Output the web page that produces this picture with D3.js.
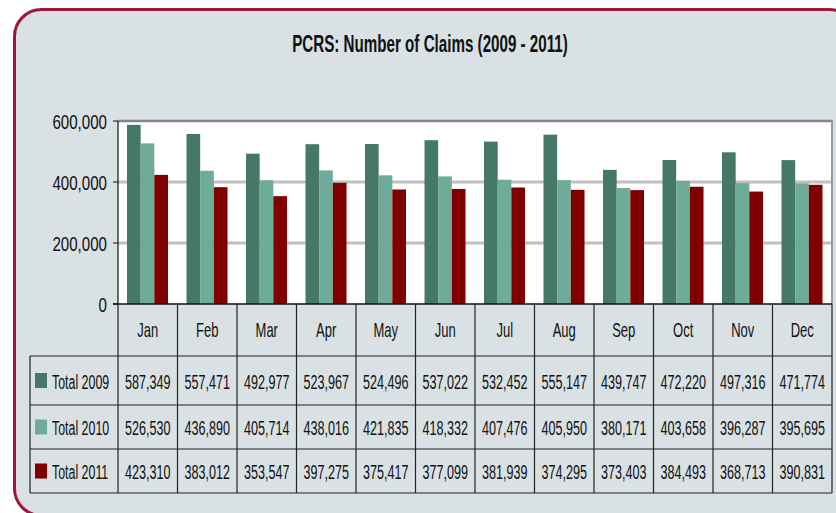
<!DOCTYPE html>
<html>
<head>
<meta charset="utf-8">
<script src="https://cdn.jsdelivr.net/npm/d3@7"></script>
<style>
  body { margin: 0; background: #ffffff; }
  text { font-family: "Liberation Sans", Arial, sans-serif; fill: #111; }
</style>
</head>
<body>
<svg id="chart" width="836" height="513"></svg>
<script>
// dati
var mesi = ["Jan", "Feb", "Mar", "Apr", "May", "Jun", "Jul", "Aug", "Sep", "Oct", "Nov", "Dec"];
var serie = ["Total 2009", "Total 2010", "Total 2011"];
var totale2009 = [587349, 557471, 492977, 523967, 524496, 537022, 532452, 555147, 439747, 472220, 497316, 471774];
var totale2010 = [526530, 436890, 405714, 438016, 421835, 418332, 407476, 405950, 380171, 403658, 396287, 395695];
var totale2011 = [423310, 383012, 353547, 397275, 375417, 377099, 381939, 374295, 373403, 384493, 368713, 390831];
var yTicks = [0, 200000, 400000, 600000];
var colori = ["#467868", "#6fab99", "#800000"];
var titolo = "PCRS: Number of Claims (2009 - 2011)";

var valori = [totale2009, totale2010, totale2011];

var svg = d3.select("#chart");

// riquadro esterno arrotondato
svg.append("rect")
    .attr("x", 14.5).attr("y", 9.5)
    .attr("width", 842).attr("height", 506)
    .attr("rx", 27).attr("ry", 27)
    .attr("fill", "#d9e1e4")
    .attr("stroke", "#9e1638")
    .attr("stroke-width", 3);

var pLeft = 118, pRight = 832, pTop = 121, pZero = 304;
var rowLines = [304, 356, 405, 449, 493];
var legendLeft = 30;

var x = d3.scaleBand().domain(mesi).range([pLeft, pRight]);
var xs = d3.scaleBand().domain(serie).range([9, x.bandwidth() - 9.5]);
var y = d3.scaleLinear().domain([0, 600000]).range([pZero, pTop]);

var fmt = d3.format(",");

// testo "stretto" come nell'originale
function testo(px, py, str, size, sx, anchor, weight) {
    var g = svg.append("g").attr("transform", "translate(" + px + "," + py + ") scale(" + sx + ",1)");
    g.append("text")
        .attr("text-anchor", anchor || "middle")
        .attr("font-size", size)
        .attr("font-weight", weight || "normal")
        .text(str);
}

// area del grafico
svg.append("rect")
    .attr("x", pLeft).attr("y", pTop)
    .attr("width", pRight - pLeft).attr("height", pZero - pTop)
    .attr("fill", "#ffffff");

// griglia
svg.selectAll("line.grid")
    .data(yTicks.filter(function (d) { return d > 0 && d < 600000; }))
    .enter()
    .append("line")
    .attr("class", "grid")
    .attr("x1", pLeft).attr("x2", pRight)
    .attr("y1", function (d) { return y(d); })
    .attr("y2", function (d) { return y(d); })
    .attr("stroke", "#c0c0c0")
    .attr("stroke-width", 3);

// bordo superiore e destro
svg.append("line").attr("x1", pLeft).attr("x2", pRight + 1).attr("y1", pTop).attr("y2", pTop)
    .attr("stroke", "#858585").attr("stroke-width", 2.5);
svg.append("line").attr("x1", pRight).attr("x2", pRight).attr("y1", pTop).attr("y2", pZero)
    .attr("stroke", "#9a9a9a").attr("stroke-width", 2);

// barre
var gruppi = svg.selectAll("g.mese")
    .data(mesi)
    .enter()
    .append("g")
    .attr("class", "mese")
    .attr("transform", function (d) { return "translate(" + x(d) + ",0)"; });

gruppi.selectAll("rect")
    .data(function (d, i) {
        return serie.map(function (s, j) { return { serie: s, valore: valori[j][i], col: colori[j] }; });
    })
    .enter()
    .append("rect")
    .attr("x", function (d) { return xs(d.serie); })
    .attr("width", xs.bandwidth())
    .attr("y", function (d) { return y(d.valore); })
    .attr("height", function (d) { return pZero - y(d.valore); })
    .attr("fill", function (d) { return d.col; });

// asse y
svg.append("line").attr("x1", pLeft).attr("x2", pLeft).attr("y1", pTop).attr("y2", pZero)
    .attr("stroke", "#111").attr("stroke-width", 1.2);
svg.selectAll("line.tick")
    .data(yTicks)
    .enter()
    .append("line")
    .attr("class", "tick")
    .attr("x1", pLeft - 5).attr("x2", pLeft)
    .attr("y1", function (d) { return y(d); })
    .attr("y2", function (d) { return y(d); })
    .attr("stroke", "#111");
yTicks.forEach(function (d) {
    testo(107, y(d) + 7.5, fmt(d), 21, 0.72, "end");
});

// titolo
testo(430, 52, titolo, 23, 0.66, "middle", "bold");

// tabella dati
rowLines.forEach(function (ry, i) {
    svg.append("line")
        .attr("x1", i == 0 ? pLeft - 5 : legendLeft).attr("x2", pRight)
        .attr("y1", ry).attr("y2", ry)
        .attr("stroke", i == 0 ? "#111" : "#222")
        .attr("stroke-width", i == 0 ? 1.5 : 1.2);
});
d3.range(mesi.length + 1).forEach(function (i) {
    var cx = i < mesi.length ? x(mesi[i]) : pRight;
    svg.append("line")
        .attr("x1", cx).attr("x2", cx)
        .attr("y1", pZero).attr("y2", rowLines[rowLines.length - 1])
        .attr("stroke", "#222").attr("stroke-width", 1.2);
});
svg.append("line")
    .attr("x1", legendLeft).attr("x2", legendLeft)
    .attr("y1", rowLines[1]).attr("y2", rowLines[rowLines.length - 1])
    .attr("stroke", "#222").attr("stroke-width", 1.2);

// etichette mesi
mesi.forEach(function (m) {
    testo(x(m) + x.bandwidth() / 2, 337, m, 21, 0.62, "middle");
});

// righe della tabella
serie.forEach(function (s, j) {
    var mid = (rowLines[j + 1] + rowLines[j + 2]) / 2;
    svg.append("rect")
        .attr("x", 35).attr("y", mid - 7.5)
        .attr("width", 12).attr("height", 15)
        .attr("fill", colori[j]);
    testo(52, mid + 8, s, 21, 0.59, "start");
    mesi.forEach(function (m, i) {
        testo(x(m) + x.bandwidth() / 2, mid + 8, fmt(valori[j][i]), 21, 0.6, "middle");
    });
});
</script>
</body>
</html>
